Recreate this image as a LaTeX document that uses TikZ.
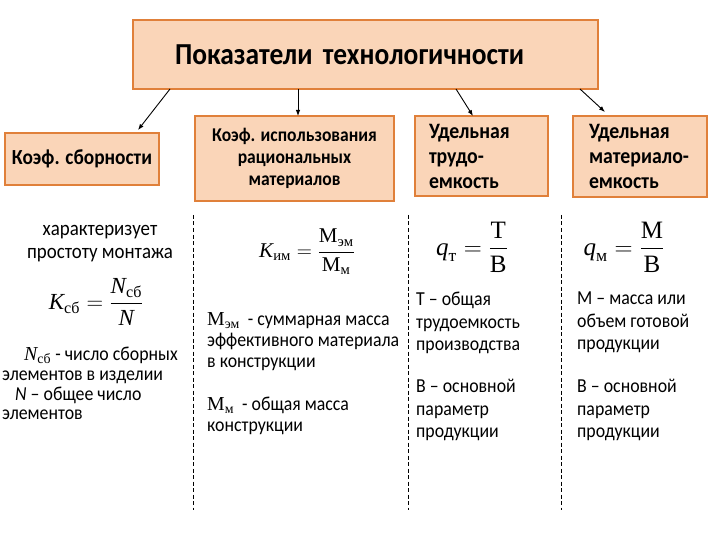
\documentclass[tikz,border=0pt]{standalone}
\usepackage{fix-cm}
\usepackage{amsmath}
\usepackage{fontspec}
\setmainfont{Carlito}[FakeStretch=0.9]
\newfontfamily\serif{Liberation Serif}
\usetikzlibrary{arrows.meta,calc}
\definecolor{boxfill}{HTML}{FAD5B8}
\definecolor{boxline}{HTML}{E0803A}
\hyphenpenalty=10000
\exhyphenpenalty=10000
\tikzset{
  box/.style={draw=boxline, fill=boxfill, line width=1.8pt, anchor=north west,
    inner ysep=0pt, outer sep=0pt},
  arr/.style={-{Latex[length=6pt,width=4.5pt]}, line width=0.9pt},
  sep/.style={dash pattern=on 4pt off 2.5pt, line width=0.6pt},
  body/.style={anchor=north west, inner sep=0pt, align=left},
  formula/.style={inner sep=0pt},
}
\newcommand{\cy}[1]{\text{\serif #1}}
\newcommand{\iv}[1]{\text{\serif\itshape #1}}
\begin{document}
\begin{tikzpicture}[x=1pt,y=1pt]
\useasboundingbox (0,0) rectangle (720,-540);
\fill[white] (0,0) rectangle (720,-540);

% header and category boxes
\node[box, minimum width=465pt, minimum height=69pt, text width=381pt, inner xsep=42pt,
  align=left, font=\fontsize{30.5}{36}\selectfont\bfseries] (title) at (133,-20)
  {Показатели технологичности};
\node[box, minimum width=154pt, minimum height=52pt, inner xsep=1pt,
  font=\fontsize{21.5}{26}\selectfont\bfseries] (b1) at (5,-133) {Коэф. сборности};
\node[box, minimum width=199pt, minimum height=85pt, inner xsep=2pt, align=center,
  font=\fontsize{19.5}{22}\selectfont\bfseries] (b2) at (195,-116)
  {Коэф. использования\\рациональных\\материалов};
\node[box, minimum width=133pt, minimum height=80pt, text width=105pt, inner xsep=14pt,
  align=left, font=\fontsize{22}{25}\selectfont\bfseries] (b3) at (415,-116)
  {Удельная\\трудо-\\емкость};
\node[box, minimum width=134pt, minimum height=81pt, text width=102pt, inner xsep=16pt,
  align=left, font=\fontsize{22}{25}\selectfont\bfseries] (b4) at (573,-116)
  {Удельная\\материало-\\емкость};

% arrows
\draw[arr] ([xshift=37pt]title.south west) -- ([xshift=133pt,yshift=3pt]b1.north west);
\draw[arr] ([xshift=165pt]title.south west) -- ([xshift=103pt]b2.north west);
\draw[arr] ([xshift=323pt]title.south west) -- ([xshift=58pt]b3.north west);
\draw[arr] ([xshift=447pt]title.south west) -- ([xshift=32pt,yshift=4pt]b4.north west);

% dashed separators
\draw[sep] (193,-215) -- (193,-510);
\draw[sep] (408,-215) -- (408,-510);
\draw[sep] (561,-215) -- (561,-510);

% column 1
\node[anchor=north, align=center, inner sep=0pt, font=\fontsize{21}{23}\selectfont] (c1a)
  at (100,-225) {характеризует\\простоту монтажа};
\node[formula, font=\fontsize{23}{26}\selectfont] (f1) at (96,-302)
  {$\iv{K}_{\cy{сб}}=\dfrac{\iv{N}_{\cy{сб}}}{\iv{N}}$};
\node[body, font=\fontsize{19.8}{19.7}\selectfont] (c1b) at (2,-347)
  {\hspace*{22pt}$\iv{N}_{\cy{сб}}$ - число сборных\\элементов в изделии\\\hspace*{13pt}\textit{N} – общее число\\элементов};

% column 2
\node[formula, font=\fontsize{21}{24}\selectfont] (f2) at (307,-252)
  {$\iv{K}_{\cy{им}}=\dfrac{\cy{М}_{\cy{эм}}}{\cy{М}_{\cy{м}}}$};
\node[body, font=\fontsize{19.8}{21}\selectfont] (c2a) at (207,-312)
  {$\cy{М}_{\cy{эм}}$\ \ - суммарная масса\\эффективного материала\\в конструкции};
\node[body, font=\fontsize{19.8}{21}\selectfont] (c2b) at (207,-397)
  {$\cy{М}_{\cy{м}}$\ \ - общая масса\\конструкции};

% column 3
\node[formula, font=\fontsize{25}{28}\selectfont] (f3) at (472,-247)
  {$\iv{q}_{\cy{т}}=\dfrac{\cy{Т}}{\cy{В}}$};
\node[body, font=\fontsize{19.8}{22.5}\selectfont] (c3a) at (416,-292)
  {Т – общая\\трудоемкость\\производства};
\node[body, font=\fontsize{19.8}{22.5}\selectfont] (c3b) at (416,-379)
  {В – основной\\параметр\\продукции};

% column 4
\node[formula, font=\fontsize{25}{28}\selectfont] (f4) at (624,-247)
  {$\iv{q}_{\cy{м}}=\dfrac{\cy{М}}{\cy{В}}$};
\node[body, font=\fontsize{19.8}{22.5}\selectfont] (c4a) at (577,-292)
  {М – масса или\\объем готовой\\продукции};
\node[body, font=\fontsize{19.8}{22.5}\selectfont] (c4b) at (577,-379)
  {В – основной\\параметр\\продукции};
\end{tikzpicture}
\end{document}
